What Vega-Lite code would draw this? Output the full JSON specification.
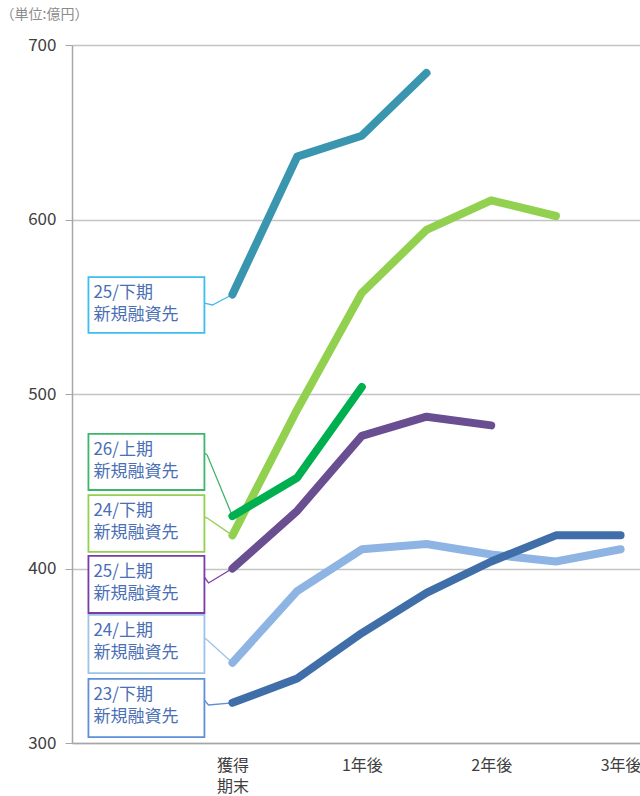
{
  "$schema": "https://vega.github.io/schema/vega-lite/v6.json",
  "width": 568,
  "height": 698,
  "autosize": {"type": "none"},
  "padding": {"left": 72, "top": 45, "right": 0, "bottom": 53},
  "background": "white",
  "config": {
    "font": "Noto Sans CJK JP",
    "view": {"stroke": null}
  },
  "datasets": {
    "series": [
      {"s": "25/下期", "t": 0, "v": 557},
      {"s": "25/下期", "t": 1, "v": 636},
      {"s": "25/下期", "t": 2, "v": 648},
      {"s": "25/下期", "t": 3, "v": 684},
      {"s": "24/下期", "t": 0, "v": 419},
      {"s": "24/下期", "t": 1, "v": 491},
      {"s": "24/下期", "t": 2, "v": 558},
      {"s": "24/下期", "t": 3, "v": 594},
      {"s": "24/下期", "t": 4, "v": 611},
      {"s": "24/下期", "t": 5, "v": 602},
      {"s": "25/上期", "t": 0, "v": 400},
      {"s": "25/上期", "t": 1, "v": 433},
      {"s": "25/上期", "t": 2, "v": 476},
      {"s": "25/上期", "t": 3, "v": 487},
      {"s": "25/上期", "t": 4, "v": 482},
      {"s": "24/上期", "t": 0, "v": 346},
      {"s": "24/上期", "t": 1, "v": 387},
      {"s": "24/上期", "t": 2, "v": 411},
      {"s": "24/上期", "t": 3, "v": 414},
      {"s": "24/上期", "t": 4, "v": 408},
      {"s": "24/上期", "t": 5, "v": 404},
      {"s": "24/上期", "t": 6, "v": 411},
      {"s": "23/下期", "t": 0, "v": 323},
      {"s": "23/下期", "t": 1, "v": 337},
      {"s": "23/下期", "t": 2, "v": 363},
      {"s": "23/下期", "t": 3, "v": 386},
      {"s": "23/下期", "t": 4, "v": 404},
      {"s": "23/下期", "t": 5, "v": 419},
      {"s": "23/下期", "t": 6, "v": 419},
      {"s": "26/上期", "t": 0, "v": 430},
      {"s": "26/上期", "t": 1, "v": 452},
      {"s": "26/上期", "t": 2, "v": 504}
    ],
    "leaders": [
      {"b": "25/下期", "k": 0, "t": -0.433, "v": 552.1},
      {"b": "25/下期", "k": 1, "t": -0.309, "v": 551.0},
      {"b": "25/下期", "k": 2, "t": 0, "v": 557},
      {"b": "26/上期", "k": 0, "t": -0.433, "v": 466.2},
      {"b": "26/上期", "k": 1, "t": -0.39, "v": 465.0},
      {"b": "26/上期", "k": 2, "t": 0, "v": 430},
      {"b": "24/下期", "k": 0, "t": -0.433, "v": 429.5},
      {"b": "24/下期", "k": 1, "t": -0.39, "v": 428.9},
      {"b": "24/下期", "k": 2, "t": 0, "v": 419},
      {"b": "25/上期", "k": 0, "t": -0.433, "v": 395.1},
      {"b": "25/上期", "k": 1, "t": -0.37, "v": 391.7},
      {"b": "25/上期", "k": 2, "t": 0, "v": 400},
      {"b": "24/上期", "k": 0, "t": -0.433, "v": 360.2},
      {"b": "24/上期", "k": 1, "t": -0.39, "v": 359.0},
      {"b": "24/上期", "k": 2, "t": 0, "v": 346},
      {"b": "23/下期", "k": 0, "t": -0.433, "v": 324.6},
      {"b": "23/下期", "k": 1, "t": -0.37, "v": 321.8},
      {"b": "23/下期", "k": 2, "t": 0, "v": 323}
    ],
    "boxes": [
      {"b": "25/下期", "t0": -2.226, "t1": -0.433, "v0": 535.0, "v1": 567.0, "label": "25/下期\n新規融資先"},
      {"b": "26/上期", "t0": -2.226, "t1": -0.433, "v0": 445.0, "v1": 477.1, "label": "26/上期\n新規融資先"},
      {"b": "24/下期", "t0": -2.226, "t1": -0.433, "v0": 409.5, "v1": 442.1, "label": "24/下期\n新規融資先"},
      {"b": "25/上期", "t0": -2.226, "t1": -0.433, "v0": 374.5, "v1": 407.2, "label": "25/上期\n新規融資先"},
      {"b": "24/上期", "t0": -2.226, "t1": -0.433, "v0": 340.1, "v1": 373.4, "label": "24/上期\n新規融資先"},
      {"b": "23/下期", "t0": -2.226, "t1": -0.433, "v0": 303.4, "v1": 336.7, "label": "23/下期\n新規融資先"}
    ]
  },
  "layer": [
    {
      "data": {"name": "leaders"},
      "mark": {"type": "line", "strokeWidth": 1.3},
      "encoding": {
        "x": {"field": "t", "type": "quantitative", "scale": {"domain": [-2.48, 6.3], "nice": false, "zero": false},
          "axis": {"values": [0, 2, 4, 6], "title": null, "ticks": false, "grid": false, "domainColor": "#A6A6A6", "domainWidth": 1.5,
            "labelExpr": "datum.value == 0 ? ['獲得','期末'] : datum.value == 2 ? '1年後' : datum.value == 4 ? '2年後' : '3年後'",
            "labelFontSize": 16, "labelColor": "#404040", "labelBaseline": "top", "labelPadding": 14, "labelLineHeight": 21, "labelFlush": false}},
        "y": {"field": "v", "type": "quantitative", "scale": {"domain": [300, 700], "nice": false, "zero": false},
          "axis": {"values": [300, 400, 500, 600, 700], "grid": true, "gridColor": "#C4C4C4", "gridWidth": 1.3, "domainColor": "#A6A6A6", "domainWidth": 1.5,
            "tickColor": "#A6A6A6", "tickSize": 7, "labelFontSize": 17, "labelColor": "#404040", "labelPadding": 9,
            "title": "（単位:億円）", "titleAngle": 0, "titleX": -72, "titleY": -31, "titleAlign": "left", "titleBaseline": "middle",
            "titleFontSize": 14, "titleFontWeight": "normal", "titleColor": "#8C8C8C"}},
        "detail": {"field": "b"},
        "order": {"field": "k"},
        "stroke": {"field": "b", "type": "nominal", "legend": null,
          "scale": {"domain": ["25/下期", "26/上期", "24/下期", "25/上期", "24/上期", "23/下期"],
            "range": ["#3EBDEF", "#3DB56B", "#92D050", "#7A3AA8", "#9DC3E6", "#5F8FD6"]}}
      }
    },
    {
      "data": {"name": "boxes"},
      "mark": {"type": "rect", "fill": "white", "strokeWidth": 1.8},
      "encoding": {
        "x": {"field": "t0", "type": "quantitative"},
        "x2": {"field": "t1"},
        "y": {"field": "v0", "type": "quantitative"},
        "y2": {"field": "v1"},
        "stroke": {"field": "b", "type": "nominal", "legend": null}
      }
    },
    {
      "data": {"name": "boxes"},
      "mark": {"type": "text", "align": "left", "baseline": "top", "dx": 5, "dy": 8, "fontSize": 17, "lineHeight": 22, "lineBreak": "\n", "color": "#4A6FB5"},
      "encoding": {
        "x": {"field": "t0", "type": "quantitative"},
        "y": {"field": "v1", "type": "quantitative"},
        "text": {"field": "label"}
      }
    },
    {
      "data": {"name": "series"},
      "mark": {"type": "line", "strokeWidth": 8, "strokeCap": "round", "strokeJoin": "round"},
      "encoding": {
        "x": {"field": "t", "type": "quantitative"},
        "y": {"field": "v", "type": "quantitative"},
        "color": {"field": "s", "type": "nominal", "legend": null,
          "scale": {"domain": ["25/下期", "26/上期", "24/下期", "25/上期", "24/上期", "23/下期"],
            "range": ["#3A95AE", "#00B050", "#92D050", "#6A4E92", "#8EB4E3", "#3F6EA8"]}}
      }
    }
  ]
}
